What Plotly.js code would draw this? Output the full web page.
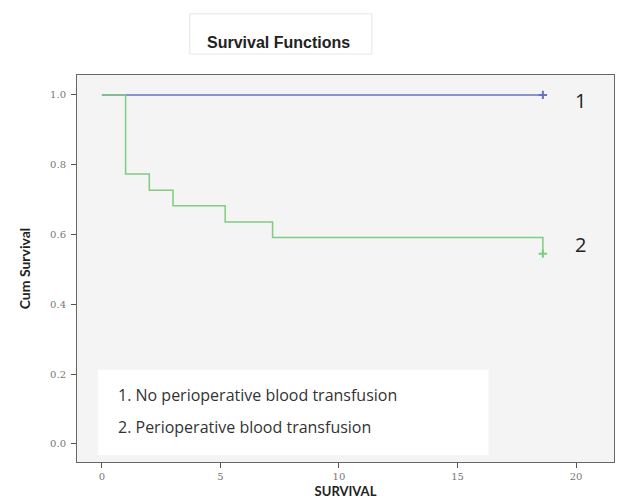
<!DOCTYPE html>
<html><head><meta charset="utf-8">
<script src="https://cdn.plot.ly/plotly-3.0.1.min.js"></script>
<style>body{margin:0;background:#fff}#c{width:619px;height:504px}</style>
</head><body><div id="c"></div>
<script>
// Group 1: No perioperative blood transfusion
const timeNoTransfusion = [0, 18.6];
const survNoTransfusion = [1.0, 1.0];
const censorNoTransfusionX = [18.6];
const censorNoTransfusionY = [1.0];
// Group 2: Perioperative blood transfusion
const timeTransfusion = [0, 1, 2, 3, 5.2, 7.2, 18.6];
const survTransfusion = [1.0, 0.773, 0.727, 0.682, 0.636, 0.591, 0.545];
const censorTransfusionX = [18.6];
const censorTransfusionY = [0.545];
const xTicks = [0, 5, 10, 15, 20];
const yTicks = [0.0, 0.2, 0.4, 0.6, 0.8, 1.0];
const yTickText = ['0.0', '0.2', '0.4', '0.6', '0.8', '1.0'];
const legendLines = ['1. No perioperative blood transfusion', '2. Perioperative blood transfusion'];
const curveLabels = ['1', '2'];

const blue = '#6673c4', green = '#80cc80';
const traces = [
  {x: timeNoTransfusion, y: survNoTransfusion, mode: 'lines', line: {color: blue, width: 1.5, shape: 'hv'}, hoverinfo: 'skip'},
  {x: censorNoTransfusionX, y: censorNoTransfusionY, mode: 'markers', marker: {symbol: 'cross-thin', size: 6, line: {color: blue, width: 2}}, hoverinfo: 'skip'},
  {x: timeTransfusion, y: survTransfusion, mode: 'lines', line: {color: green, width: 1.5, shape: 'hv'}, hoverinfo: 'skip'},
  {x: censorTransfusionX, y: censorTransfusionY, mode: 'markers', marker: {symbol: 'cross-thin', size: 6, line: {color: green, width: 2}}, hoverinfo: 'skip'}
];
const tickFont = {family: 'DejaVu Serif, serif', size: 10, color: '#777'};
const layout = {
  width: 619, height: 504,
  margin: {l: 77, r: 5, t: 75, b: 42},
  paper_bgcolor: '#ffffff', plot_bgcolor: '#f4f4f4',
  showlegend: false,
  title: {text: '<b>Survival Functions</b>', x: 0.45, xanchor: 'center', y: 0.915, yanchor: 'middle',
          font: {family: 'Liberation Sans, Arial, sans-serif', size: 16, color: '#222'}},
  xaxis: {range: [-1.05, 21.6], tickvals: xTicks, ticktext: xTicks.map(String), ticks: 'outside', ticklen: 5, tickcolor: '#555',
          showgrid: false, zeroline: false, showline: true, linecolor: '#666', linewidth: 1, mirror: true,
          tickfont: tickFont,
          title: {text: '<b>SURVIVAL</b>', standoff: 5, font: {family: 'Lato, sans-serif', size: 13, color: '#222'}}},
  yaxis: {range: [-0.052, 1.057], tickvals: yTicks, ticktext: yTickText, ticks: 'outside', ticklen: 5, tickcolor: '#555',
          showgrid: false, zeroline: false, showline: true, linecolor: '#666', linewidth: 1, mirror: true,
          tickfont: tickFont, ticklabelstandoff: 3,
          title: {text: '<b>Cum Survival</b>', standoff: 16, font: {family: 'Lato, sans-serif', size: 14, color: '#222'}}},
  shapes: [
    {type: 'rect', xref: 'x', yref: 'y', x0: -0.17, x1: 16.3, y0: -0.032, y1: 0.212, fillcolor: '#ffffff', line: {width: 0}, layer: 'below'},
    {type: 'rect', xref: 'paper', yref: 'paper', x0: 0.21, x1: 0.549, y0: 1.054, y1: 1.158, fillcolor: 'rgba(0,0,0,0)', line: {color: '#e6e6e6', width: 1}}
  ],
  annotations: [
    {xref: 'x', yref: 'y', x: 0.6, y: 0.14, xanchor: 'left', yanchor: 'middle', showarrow: false, text: legendLines[0],
     font: {family: 'Open Sans, sans-serif', size: 16, color: '#333'}},
    {xref: 'x', yref: 'y', x: 0.6, y: 0.049, xanchor: 'left', yanchor: 'middle', showarrow: false, text: legendLines[1],
     font: {family: 'Open Sans, sans-serif', size: 16, color: '#333'}},
    {xref: 'x', yref: 'y', x: 20.2, y: 0.985, xanchor: 'center', yanchor: 'middle', showarrow: false, text: curveLabels[0],
     font: {family: 'Open Sans, sans-serif', size: 20, color: '#222'}},
    {xref: 'x', yref: 'y', x: 20.2, y: 0.57, xanchor: 'center', yanchor: 'middle', showarrow: false, text: curveLabels[1],
     font: {family: 'Open Sans, sans-serif', size: 20, color: '#222'}}
  ]
};
Plotly.newPlot('c', traces, layout, {displayModeBar: false, staticPlot: true});
</script></body></html>
